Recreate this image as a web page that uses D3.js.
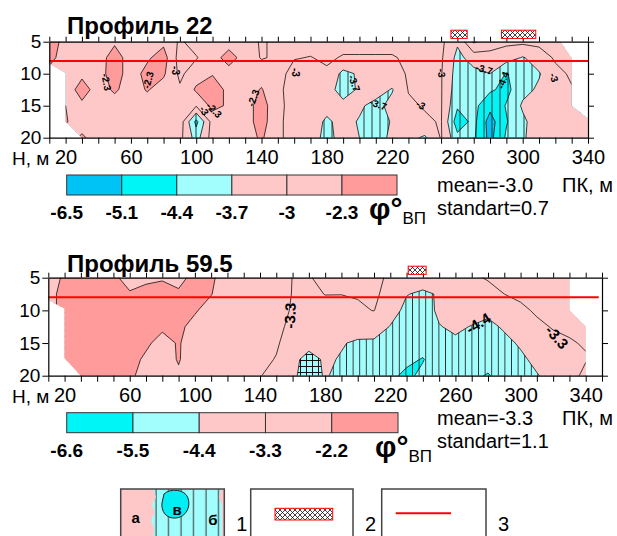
<!DOCTYPE html>
<html>
<head>
<meta charset="utf-8">
<script src="https://cdn.jsdelivr.net/npm/d3@7"></script>
<style>
  body { margin: 0; background: #fff; }
  svg { display: block; font-family: Arial, "Liberation Sans", sans-serif; }
</style>
</head>
<body>
<svg id="chart" width="617" height="536"></svg>
<script>
// grid nodes shared by both profiles
const pkNodes = d3.range(10, 341, 10);                 // ПК, м
const depthNodes = [5, 7.5, 10, 12.5, 15, 17.5, 20];   // Н, м

// profile 22 : one column per picket, depth 5 -> 20
const p22Cols = [
  [-2.0, -2.1, -2.5, -2.6, -2.5, -2.5, -2.5],     // 10
  [-2.5, -2.6, -2.6, -2.7, -2.3, -2.25, -2.6],    // 20
  [-2.6, -2.6, -2.45, -2.0, -2.45, -2.6, -2.2],   // 30
  [-2.6, -2.6, -2.55, -2.6, -2.65, -2.7, -2.6],   // 40
  [-2.4, -2.0, -2.0, -2.2, -2.6, -2.7, -2.65],    // 50
  [-2.6, -2.6, -2.6, -2.6, -2.7, -2.7, -2.7],     // 60
  [-2.6, -2.4, -2.1, -2.25, -2.6, -2.7, -2.7],    // 70
  [-2.45, -2.0, -2.2, -2.6, -2.7, -2.7, -2.7],    // 80
  [-3.1, -3.3, -3.15, -2.9, -2.75, -2.6, -2.8],   // 90
  [-2.7, -3.05, -2.6, -2.2, -2.95, -4.6, -4.0],   // 100
  [-2.6, -2.6, -2.35, -1.9, -2.1, -2.7, -2.7],    // 110
  [-2.6, -2.0, -2.6, -2.5, -2.4, -2.6, -2.7],     // 120
  [-2.6, -2.6, -2.6, -2.6, -2.6, -2.6, -2.6],     // 130
  [-3.1, -3.05, -2.6, -2.25, -2.0, -2.0, -2.2],   // 140
  [-2.8, -2.9, -2.8, -2.85, -2.8, -2.85, -2.9],   // 150
  [-2.8, -2.97, -3.2, -3.3, -3.3, -3.3, -3.2],    // 160
  [-2.8, -3.02, -3.2, -3.3, -3.35, -3.4, -3.4],   // 170
  [-2.75, -2.9, -3.1, -3.4, -3.5, -3.8, -3.9],    // 180
  [-2.8, -3.05, -3.9, -4.0, -3.5, -3.5, -3.45],   // 190
  [-2.8, -3.05, -3.6, -3.6, -3.6, -3.75, -3.7],   // 200
  [-2.8, -3.05, -3.3, -3.4, -3.9, -4.0, -3.9],    // 210
  [-2.8, -3.05, -3.2, -3.75, -3.5, -3.65, -3.6],  // 220
  [-2.8, -2.9, -2.95, -2.97, -3.1, -3.3, -3.5],   // 230
  [-2.8, -2.85, -2.9, -2.9, -2.95, -3.1, -3.8],   // 240
  [-2.85, -2.9, -2.95, -2.95, -2.95, -2.95, -2.95], // 250
  [-3.6, -3.9, -4.0, -4.1, -4.3, -4.8, -4.2],     // 260
  [-2.2, -3.4, -3.9, -4.0, -4.2, -4.2, -4.3],     // 270
  [-2.8, -3.15, -3.7, -4.3, -4.9, -5.4, -5.3],    // 280
  [-2.85, -3.4, -4.45, -4.6, -4.35, -4.45, -4.3], // 290
  [-2.85, -3.75, -4.0, -3.9, -3.6, -3.85, -3.8],  // 300
  [-2.8, -3.4, -3.75, -3.6, -3.3, -3.3, -3.3],    // 310
  [-2.6, -2.9, -3.2, -3.1, -3.2, -3.3, -3.3],     // 320
  [-2.6, -2.75, -2.9, -3.05, -3.15, -3.3, -3.3],  // 330
  [-2.6, -2.7, -2.8, -2.95, -3.1, -3.2, -3.2]     // 340
];
const p22Levels = [-6.5, -5.1, -4.4, -3.7, -3, -2.3];
const p22Colors = ["#00c3f5", "#00f6f6", "#a2fdfd", "#ffc8c8", "#ffc8c8", "#ff9b9b"];
const p22Blank = [[10, 5], [10, 8.4], [20, 9.9], [20, 17.5], [30, 20], [340, 20], [340, 17], [330, 15], [330, 7.6], [323, 5]];
const p22Pipes = [[256, 266], [287, 308]];
const p22Labels = [
  [45, 11.3, "-2.3", 80], [70.6, 11, "-2.3", -75], [87.4, 9.5, "-3", 90],
  [104.9, 15.8, "-3", 60], [111, 15.7, "-2.3", 45], [135, 13.8, "-2.3", -70],
  [160.9, 9.8, "-3", 90], [196.8, 11.5, "-3.7", 70], [211.5, 14.8, "-3.7", 20],
  [237.6, 14.9, "-3", 30], [250.3, 9.9, "-3", 85], [276.4, 9.3, "-3.7", 15],
  [288, 11, "-4.4", -70], [319.2, 10.6, "-3", 70]
];

// profile 59.5
const p59Cols = [
  [-2.5, -2.4, -2.4, -2.4, -2.4, -2.4, -2.4],     // 10
  [-2.1, -2.0, -2.0, -2.0, -2.0, -2.0, -2.0],     // 20
  [-2.0, -1.9, -1.9, -1.9, -1.9, -2.0, -2.0],     // 30
  [-2.0, -1.9, -1.8, -1.8, -1.9, -2.05, -2.0],    // 40
  [-2.1, -1.9, -1.8, -1.8, -1.9, -1.9, -2.0],     // 50
  [-2.4, -2.15, -1.9, -1.9, -1.9, -2.0, -2.1],    // 60
  [-2.3, -2.05, -1.9, -1.9, -2.1, -2.3, -2.4],    // 70
  [-2.25, -2.0, -1.95, -2.1, -2.4, -2.5, -2.5],   // 80
  [-2.4, -2.1, -2.0, -2.1, -2.15, -2.15, -2.3],   // 90
  [-2.0, -2.0, -2.15, -2.35, -2.5, -2.6, -2.6],   // 100
  [-2.1, -2.18, -2.4, -2.6, -2.7, -2.75, -2.8],   // 110
  [-2.5, -2.5, -2.6, -2.7, -2.8, -2.9, -3.0],     // 120
  [-2.7, -2.65, -2.7, -2.8, -2.9, -3.1, -3.2],    // 130
  [-2.9, -2.85, -2.9, -3.0, -3.1, -3.2, -3.25],   // 140
  [-3.0, -3.05, -3.1, -3.15, -3.25, -3.32, -3.7], // 150
  [-3.31, -3.32, -3.35, -3.45, -3.5, -4.0, -4.2], // 160
  [-3.35, -3.4, -3.5, -3.65, -3.9, -4.9, -4.9],   // 170
  [-3.1, -3.29, -3.45, -3.6, -3.8, -4.2, -4.3],   // 180
  [-3.1, -3.29, -3.5, -3.7, -4.3, -4.5, -4.7],    // 190
  [-3.1, -3.25, -3.4, -3.7, -4.6, -4.8, -4.9],    // 200
  [-3.15, -3.2, -3.28, -3.8, -4.6, -4.9, -5.0],   // 210
  [-3.4, -3.5, -3.9, -4.45, -4.8, -5.0, -5.3],    // 220
  [-3.6, -4.35, -4.7, -4.9, -5.0, -5.3, -5.7],    // 230
  [-3.8, -4.6, -4.9, -5.0, -5.1, -5.55, -5.3],    // 240
  [-3.6, -4.3, -4.2, -4.45, -4.8, -5.0, -5.0],    // 250
  [-3.5, -3.8, -4.0, -4.2, -4.6, -5.0, -5.1],     // 260
  [-3.4, -3.6, -3.9, -4.45, -4.7, -4.9, -5.2],    // 270
  [-3.25, -3.5, -4.2, -4.6, -4.8, -5.0, -5.6],    // 280
  [-3.15, -3.3, -3.9, -4.3, -4.6, -4.8, -4.9],    // 290
  [-3.0, -3.15, -3.45, -3.9, -4.3, -4.55, -4.7],  // 300
  [-2.9, -3.05, -3.2, -3.45, -3.8, -4.2, -4.45],  // 310
  [-2.8, -2.9, -3.1, -3.25, -3.5, -3.8, -4.1],    // 320
  [-2.7, -2.85, -2.95, -3.2, -3.35, -3.55, -3.6], // 330
  [-2.7, -2.8, -2.9, -3.05, -3.25, -3.35, -3.1]   // 340
];
const p59Levels = [-6.6, -5.5, -4.4, -3.3, -2.2];
const p59Colors = ["#00f6f6", "#a2fdfd", "#ffc8c8", "#ffc8c8", "#ff9b9b"];
const p59Blank = [[10, 5], [10, 8.4], [20, 9.7], [20, 17.3], [30, 20], [340, 20], [340, 12.5], [330, 10], [330, 5]];
const p59Pipes = [[231, 242]];
const p59Labels = [[158.5, 10.8, "-3.3", -88], [274, 12, "-4.4", -32], [322.3, 14.1, "-3.3", 48]];
const p59GridZoneEnd = 181;   // anomaly with square hatch lies left of this picket

const redLineDepth = 8;

const svg = d3.select("#chart");
const defs = svg.append("defs");

function linePattern(id, w, h, lines, bg) {
  const p = defs.append("pattern").attr("id", id)
    .attr("patternUnits", "userSpaceOnUse").attr("width", w).attr("height", h);
  if (bg) p.append("rect").attr("width", w).attr("height", h).attr("fill", bg);
  lines.forEach(l => p.append("line")
    .attr("x1", l[0]).attr("y1", l[1]).attr("x2", l[2]).attr("y2", l[3])
    .attr("stroke", l[4] || "#333").attr("stroke-width", l[5] || 1));
}
linePattern("vl8", 8, 10, [[4, 0, 4, 10]]);
linePattern("vl7", 6.6, 10, [[3.3, 0, 3.3, 10]]);
linePattern("vl12", 12.5, 10, [[6, 0, 6, 10]]);
linePattern("grid6", 6, 6, [[0.5, 0, 0.5, 6, "#111"], [0, 0.5, 6, 0.5, "#111"]]);
linePattern("diam", 5, 5, [[0, 0, 5, 5, "#111", 0.8], [5, 0, 0, 5, "#111", 0.8]], "#fff");

function drawProfile(cfg) {
  const g = svg.append("g");
  const x = d3.scaleLinear().domain(cfg.xDomain).range(cfg.xRange);
  const y = d3.scaleLinear().domain([5, 20]).range(cfg.yRange);
  const n = pkNodes.length, m = depthNodes.length;
  const values = [];
  depthNodes.forEach((dep, j) => pkNodes.forEach((pk, i) => values.push(cfg.cols[i][j])));
  const stepX = pkNodes[1] - pkNodes[0], stepD = depthNodes[1] - depthNodes[0];
  const gridPath = d3.geoPath(d3.geoTransform({
    point: function(gx, gy) {
      this.stream.point(x(pkNodes[0] + (gx - 0.5) * stepX), y(depthNodes[0] + (gy - 0.5) * stepD));
    }
  }));
  const contours = d3.contours().size([n, m]).thresholds(cfg.levels.slice(1))(values);

  const blank = d3.line().x(p => x(p[0])).y(p => y(p[1]))(cfg.blank) + "Z";
  defs.append("clipPath").attr("id", cfg.id + "-clip").append("path").attr("d", blank);

  const area = g.append("g").attr("clip-path", `url(#${cfg.id}-clip)`);
  area.append("path").attr("d", blank).attr("fill", cfg.colors[0]);
  const x0 = cfg.xRange[0], x1 = cfg.xRange[1], y0 = cfg.yRange[0], y1 = cfg.yRange[1];
  contours.forEach((c, i) => {
    if (c.value === cfg.hatchLevel) {
      const split = cfg.gridZoneEnd ? x(cfg.gridZoneEnd) : x0;
      if (cfg.gridZoneEnd)
        area.append("rect").attr("x", x0).attr("y", y0).attr("width", split - x0)
          .attr("height", y1 - y0).attr("fill", "url(#grid6)");
      area.append("rect").attr("x", split).attr("y", y0).attr("width", x1 - split)
        .attr("height", y1 - y0).attr("fill", `url(#${cfg.hatch})`);
    }
    area.append("path").attr("d", gridPath(c)).attr("fill", cfg.colors[i + 1]);
  });
  area.append("g").selectAll("path").data(contours).join("path")
    .attr("d", gridPath).attr("fill", "none")
    .attr("stroke", "#111").attr("stroke-width", 0.8);

  area.append("g").selectAll("text").data(cfg.labels).join("text")
    .attr("transform", d => `translate(${x(d[0])},${y(d[1])}) rotate(${d[3]})`)
    .attr("text-anchor", "middle").attr("dy", "0.35em")
    .attr("font-size", cfg.labelSize).attr("font-weight", "bold")
    .text(d => d[2]);

  // red line
  g.append("line").attr("x1", x0).attr("x2", x(cfg.redEnd)).attr("y1", y(redLineDepth)).attr("y2", y(redLineDepth))
    .attr("stroke", "#ff0000").attr("stroke-width", 2);

  // axes
  const pkTicks = d3.range(10, cfg.xDomain[1] + 1, 10);
  const fmt = d => ((d - 20) % 40 === 0 ? d : "");
  const styleAxis = sel => {
    sel.select(".domain").attr("stroke", "#000").attr("stroke-width", 1.2);
    sel.selectAll(".tick line").attr("stroke", "#000").attr("stroke-width", 1);
    sel.selectAll("text").attr("font-size", 20).attr("fill", "#000")
      .attr("font-family", "Arial, 'Liberation Sans', sans-serif");
  };
  g.append("g").attr("transform", `translate(0,${y1})`)
    .call(d3.axisBottom(x).tickValues(pkTicks).tickFormat(fmt).tickSize(6).tickSizeOuter(0).tickPadding(6.5))
    .call(styleAxis);
  g.append("g").attr("transform", `translate(0,${y0})`)
    .call(d3.axisTop(x).tickValues(pkTicks).tickFormat("").tickSize(5).tickSizeOuter(0))
    .call(styleAxis);
  g.append("g").attr("transform", `translate(${x0},0)`)
    .call(d3.axisLeft(y).tickValues([5, 10, 15, 20]).tickSize(6).tickSizeOuter(0).tickPadding(2))
    .call(styleAxis)
    .call(a => a.selectAll("text").attr("font-size", 19));
  g.append("g").attr("transform", `translate(${x1},0)`)
    .call(d3.axisRight(y).tickValues([5, 10, 15, 20]).tickFormat("").tickSize(6).tickSizeOuter(0))
    .call(styleAxis);

  // pipe markers
  g.append("g").selectAll("rect").data(cfg.pipes).join("rect")
    .attr("x", d => x(d[0])).attr("width", d => x(d[1]) - x(d[0]))
    .attr("y", y0 - 11.5).attr("height", 8.2)
    .attr("fill", "url(#diam)").attr("stroke", "#ff0000").attr("stroke-width", 1);

  g.append("text").attr("x", 67).attr("y", cfg.titleY).attr("font-size", 24).attr("font-weight", "bold").text(cfg.title);
  g.append("text").attr("x", 12).attr("y", y1 + 27).attr("font-size", 19).text("Н, м");
  g.append("text").attr("x", 562).attr("y", cfg.statY).attr("font-size", 20).text("ПК, м");
  g.append("text").attr("x", 437).attr("y", cfg.statY).attr("font-size", 20).text(cfg.mean);
  g.append("text").attr("x", 437).attr("y", cfg.statY + 23).attr("font-size", 20).text(cfg.std);

  // colour bar
  const bx = d3.scaleLinear().domain([0, cfg.levels.length]).range(cfg.barX);
  const bar = g.append("g");
  bar.selectAll("rect").data(cfg.levels).join("rect")
    .attr("x", (d, i) => bx(i)).attr("width", bx(1) - bx(0))
    .attr("y", cfg.barY).attr("height", 20)
    .attr("fill", (d, i) => cfg.colors[i]).attr("stroke", "#333").attr("stroke-width", 1);
  bar.selectAll("text").data(cfg.levels).join("text")
    .attr("x", (d, i) => bx(i)).attr("y", cfg.barY + 44)
    .attr("text-anchor", "middle").attr("font-size", 19).attr("font-weight", "bold")
    .text(d => String(d));
  const phi = bar.append("text").attr("x", cfg.phiX).attr("y", cfg.barY + 44);
  phi.append("tspan").attr("font-size", 30).attr("font-weight", "bold").text("φ°");
  phi.append("tspan").attr("font-size", 17).attr("dy", 5).text("ВП");
}

drawProfile({
  id: "p22", cols: p22Cols, levels: p22Levels, colors: p22Colors, blank: p22Blank,
  pipes: p22Pipes, labels: p22Labels, hatchLevel: -3.7, hatch: "vl8", labelSize: 10,
  xDomain: [10, 340], xRange: [49.3, 588], yRange: [41.7, 137.7], redEnd: 340,
  title: "Профиль 22", titleY: 34, statY: 192, mean: "mean=-3.0", std: "standart=0.7",
  barX: [66.7, 397], barY: 175, phiX: 369
});
drawProfile({
  id: "p59", cols: p59Cols, levels: p59Levels, colors: p59Colors, blank: p59Blank,
  pipes: p59Pipes, labels: p59Labels, hatchLevel: -4.4, hatch: "vl7", labelSize: 15,
  gridZoneEnd: p59GridZoneEnd,
  xDomain: [10, 350], xRange: [48.3, 602], yRange: [277.7, 375.7], redEnd: 348,
  title: "Профиль 59.5", titleY: 271.7, statY: 425, mean: "mean=-3.3", std: "standart=1.1",
  barX: [66.7, 398], barY: 412.7, phiX: 375
});

// legend
const legend = svg.append("g");
const boxes = [[120.7, 224.3, "1"], [250.7, 353, "2"], [381.7, 486, "3"]];
defs.append("clipPath").attr("id", "lg1").append("rect").attr("x", 120.7).attr("y", 489).attr("width", 103.6).attr("height", 50);
const s1 = legend.append("g").attr("clip-path", "url(#lg1)");
s1.append("rect").attr("x", 120).attr("y", 488).attr("width", 106).attr("height", 50).attr("fill", "#ffc8c8");
const cyanZone = "M153,489 L156,497 L152,505 L155,512 L151,520 L154,528 L153,540 L222,540 L222,505 L219,497 L221,489 Z";
s1.append("path").attr("d", cyanZone).attr("fill", "#a2fdfd");
s1.append("path").attr("d", cyanZone).attr("fill", "url(#vl12)");
s1.append("path").attr("d", "M164,494 C170,488 185,489 188,498 C191,507 186,517 176,518 C166,519 161,511 162,503 Z")
  .attr("fill", "#00eef4").attr("stroke", "#222").attr("stroke-width", 1);
s1.append("text").attr("x", 135.7).attr("y", 522.7).attr("text-anchor", "middle").attr("font-size", 15).attr("font-weight", "bold").text("а");
s1.append("text").attr("x", 177).attr("y", 515).attr("text-anchor", "middle").attr("font-size", 15).attr("font-weight", "bold").text("в");
s1.append("text").attr("x", 213).attr("y", 525).attr("text-anchor", "middle").attr("font-size", 15).attr("font-weight", "bold").text("б");
legend.selectAll("rect.box").data(boxes).join("rect").attr("class", "box")
  .attr("x", d => d[0]).attr("y", 489).attr("width", d => d[1] - d[0]).attr("height", 60)
  .attr("fill", "none").attr("stroke", "#444").attr("stroke-width", 1.5);
legend.selectAll("text.num").data(boxes).join("text").attr("class", "num")
  .attr("x", d => d[1] + 12).attr("y", 531).attr("font-size", 20).text(d => d[2]);
legend.append("rect").attr("x", 275).attr("y", 508.3).attr("width", 57.7).attr("height", 11.7)
  .attr("fill", "url(#diam)").attr("stroke", "#ff0000").attr("stroke-width", 1);
legend.append("line").attr("x1", 395.7).attr("x2", 451).attr("y1", 513.3).attr("y2", 513.3)
  .attr("stroke", "#ff0000").attr("stroke-width", 2);
</script>
</body>
</html>
